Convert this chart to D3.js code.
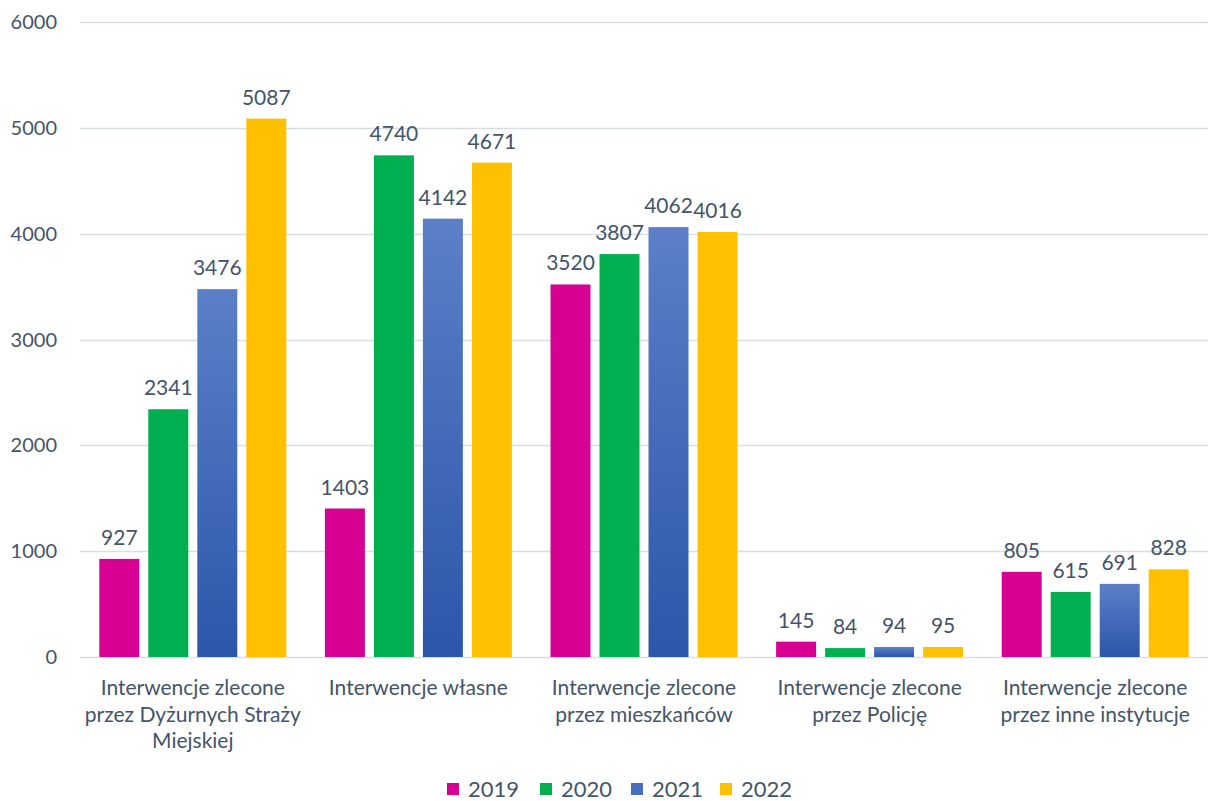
<!DOCTYPE html>
<html><head><meta charset="utf-8">
<script src="https://cdn.jsdelivr.net/npm/d3@7"></script>
<style>body{margin:0;background:#fff}svg{display:block}</style>
</head><body>
<script>
const categories = [
  ["Interwencje zlecone", "przez Dyżurnych Straży", "Miejskiej"],
  ["Interwencje własne"],
  ["Interwencje zlecone", "przez mieszkańców"],
  ["Interwencje zlecone", "przez Policję"],
  ["Interwencje zlecone", "przez inne instytucje"]
];
const years = ["2019", "2020", "2021", "2022"];
const values2019 = [927, 1403, 3520, 145, 805];
const values2020 = [2341, 4740, 3807, 84, 615];
const values2021 = [3476, 4142, 4062, 94, 691];
const values2022 = [5087, 4671, 4016, 95, 828];
const yTicks = [0, 1000, 2000, 3000, 4000, 5000, 6000];

const series = [values2019, values2020, values2021, values2022];
const colors = ["#D60093", "#00B050", "url(#g2021)", "#FFC000"];
const legendColors = ["#D60093", "#00B050", "#4A6FBF", "#FFC000"];

const W = 1209, H = 801;
const plotLeft = 80, plotRight = 1208, plotTop = 22, plotBottom = 657;
const font = "Lato, 'Open Sans', sans-serif";
const textColor = "#44546A";

const svg = d3.select("body").append("svg").attr("width", W).attr("height", H);
const defs = svg.append("defs");
const g = defs.append("linearGradient").attr("id", "g2021").attr("x1", 0).attr("y1", 0).attr("x2", 0).attr("y2", 1);
g.append("stop").attr("offset", "0%").attr("stop-color", "#5B80C8");
g.append("stop").attr("offset", "100%").attr("stop-color", "#2C56A9");

const x0 = d3.scaleBand().domain(d3.range(categories.length)).range([plotLeft, plotRight]).padding(0);
const x1 = d3.scaleBand().domain(years).range([0, x0.bandwidth()]).paddingInner(0.184).paddingOuter(0.394);
const y = d3.scaleLinear().domain([0, 6000]).range([plotBottom, plotTop]);

// gridlines
svg.append("g").selectAll("line").data(yTicks).join("line")
  .attr("x1", plotLeft).attr("x2", plotRight)
  .attr("y1", d => Math.round(y(d)) + 0.5).attr("y2", d => Math.round(y(d)) + 0.5)
  .attr("stroke", "#D9DEE6").attr("stroke-width", 1.3);

// y tick labels
svg.append("g").selectAll("text").data(yTicks).join("text")
  .attr("x", 57).attr("y", d => y(d)).attr("dy", "0.35em")
  .attr("text-anchor", "end").attr("font-family", font).attr("font-size", 20)
  .attr("fill", textColor).text(d => d);

// bars
const bars = svg.append("g");
years.forEach((yr, si) => {
  bars.append("g").selectAll("rect").data(series[si]).join("rect")
    .attr("x", (d, i) => x0(i) + x1(yr))
    .attr("width", x1.bandwidth())
    .attr("y", d => y(d))
    .attr("height", d => y(0) - y(d))
    .attr("fill", colors[si]);
  bars.append("g").selectAll("text").data(series[si]).join("text")
    .attr("x", (d, i) => x0(i) + x1(yr) + x1.bandwidth() / 2)
    .attr("y", d => y(d) - 14)
    .attr("text-anchor", "middle").attr("font-family", font).attr("font-size", 21)
    .attr("fill", textColor).text(d => d);
});

// category labels
categories.forEach((lines, i) => {
  const t = svg.append("text").attr("text-anchor", "middle").attr("font-family", font)
    .attr("font-size", 21).attr("fill", textColor);
  lines.forEach((ln, j) => {
    t.append("tspan").attr("x", x0(i) + x0.bandwidth() / 2).attr("y", 695 + j * 26.5).text(ln);
  });
});

// legend
const lx = [447, 540, 631, 720];
const leg = svg.append("g");
years.forEach((yr, i) => {
  leg.append("rect").attr("x", lx[i]).attr("y", 783).attr("width", 12).attr("height", 12).attr("fill", legendColors[i]);
  leg.append("text").attr("x", lx[i] + 21).attr("y", 789).attr("dy", "0.35em")
    .attr("font-family", font).attr("font-size", 22).attr("fill", textColor).text(yr);
});
</script>
</body></html>
